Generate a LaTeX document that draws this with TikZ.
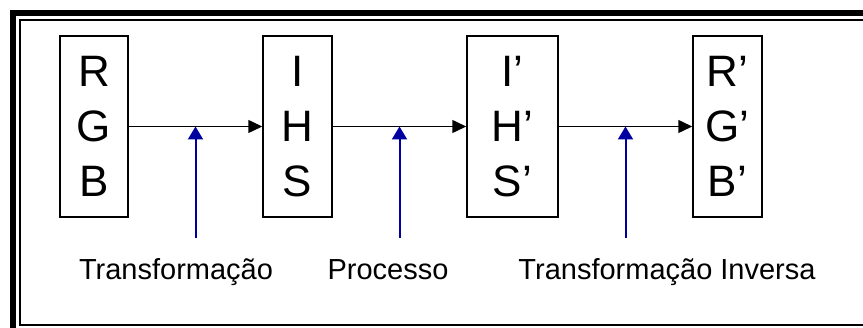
\documentclass[tikz,border=0pt]{standalone}
\usepackage{fontspec}
\setmainfont{Liberation Sans}
\usetikzlibrary{arrows.meta,calc}
\definecolor{IHSNavy}{HTML}{0000A0}
\definecolor{IHSInk}{HTML}{000000}
\tikzset{
  ihsbox/.style={
    draw=IHSInk,
    line width=1.5pt,
    align=center,
    inner sep=0pt,
    minimum height=181pt,
    font=\fontsize{44}{55}\selectfont
  },
  ihsflow/.style={-{Triangle[length=14pt,width=13pt]},draw=IHSInk,line width=1.5pt},
  ihsmark/.style={-{Triangle[length=13pt,width=15pt]},draw=IHSNavy,line width=2pt},
  ihslabel/.style={anchor=base,inner sep=0pt,font=\fontsize{29}{34}\selectfont}
}

\begin{document}
\begin{tikzpicture}[x=1pt,y=-1pt]
  \useasboundingbox (0,0) rectangle (863,328);
  % frame
  \draw[line width=6pt] (13,13) rectangle (880,345);
  \draw[line width=2pt] (20,20) rectangle (875,325);

  \node[ihsbox,minimum width=68pt] (rgb) at (94,126.5) {R\\G\\B};
  \node[ihsbox,minimum width=69pt] (ihs) at (297.5,126.5) {I\\H\\S};
  \node[ihsbox,minimum width=91pt] (ihsp) at (512.5,126.5) {I’\\H’\\S’};
  \node[ihsbox,minimum width=69pt] (rgbp) at (727.5,126.5) {R’\\G’\\B’};

  \draw[ihsflow] (rgb) -- (ihs);
  \draw[ihsflow] (ihs) -- (ihsp);
  \draw[ihsflow] (ihsp) -- (rgbp);

  \coordinate (m1) at ($(rgb.east)!0.5!(ihs.west)$);
  \coordinate (m2) at ($(ihs.east)!0.5!(ihsp.west)$);
  \coordinate (m3) at ($(ihsp.east)!0.5!(rgbp.west)$);
  \draw[ihsmark] ([yshift=-112pt]m1) -- (m1);
  \draw[ihsmark] ([yshift=-112pt]m2) -- (m2);
  \draw[ihsmark] ([yshift=-112pt]m3) -- (m3);

  \node[ihslabel] (tr) at (176,280) {Transformação};
  \node[ihslabel] (proc) at (388,280) {Processo};
  \node[ihslabel] (inv) at (667,280) {Transformação Inversa};
\end{tikzpicture}
\end{document}
